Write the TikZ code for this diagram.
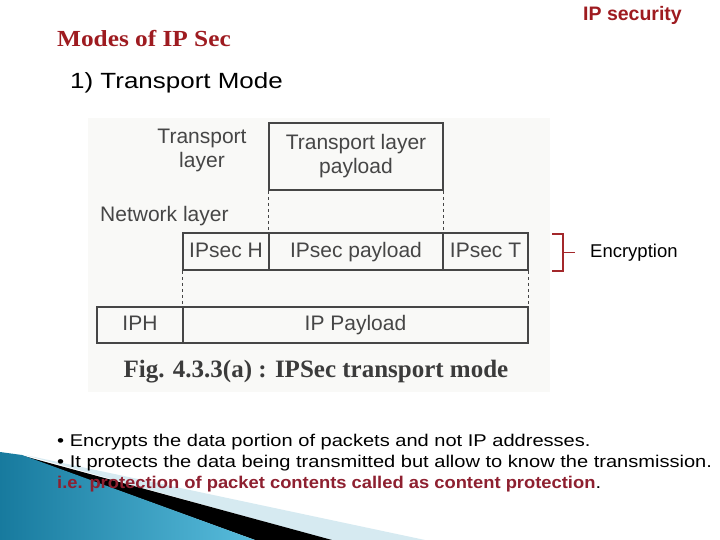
\documentclass[tikz,border=0pt]{standalone}
\usepackage{fontspec}
\setmainfont{Liberation Sans}
\newfontfamily\titleserif[FakeStretch=1.1]{Liberation Serif}
\newfontfamily\figserif{Liberation Serif}
\newfontfamily\slidesans[FakeStretch=1.18]{Liberation Sans}
\newfontfamily\boldnarrow[FakeStretch=1.08]{Liberation Sans}
\usetikzlibrary{positioning}
\definecolor{slidered}{HTML}{9E1B20}
\definecolor{notered}{HTML}{8E2030}
\definecolor{scangray}{HTML}{464646}
\definecolor{scanpaper}{HTML}{F9F9F7}
\definecolor{wedgedark}{HTML}{177A9E}
\definecolor{wedgelight}{HTML}{58BCDC}
\definecolor{wedgepale}{HTML}{D6EAF1}
\definecolor{bracered}{HTML}{A3282B}

\begin{document}
\begin{tikzpicture}[x=1pt, y=-1pt,
    pktbox/.style={draw=scangray, line width=1.6pt, minimum height=37pt, inner sep=0pt,
      font=\fontsize{21}{24}\selectfont, text=scangray},
    cellbox/.style={pktbox, text height=15pt, text depth=4pt},
    layerlbl/.style={font=\fontsize{21}{24}\selectfont, text=scangray, align=center},
    guide/.style={scangray, line width=1.2pt, dash pattern=on 3pt off 3pt},
    bullet/.style={anchor=base west, inner sep=0pt, font=\slidesans\fontsize{17}{17}\selectfont}]
  \useasboundingbox (0,0) rectangle (720,540);
  \fill[white] (0,0) rectangle (720,540);

  % bottom left wedges
  \fill[wedgepale] (25,455) -- (425,540) -- (330,540) -- cycle;
  \fill[black] (20,455) -- (332,540) -- (255,540) -- cycle;
  \shade[left color=wedgedark, right color=wedgelight] (0,452) -- (22,455) -- (255,540) -- (0,540) -- cycle;

  % headings
  \node[anchor=base east, inner sep=0pt, font=\bfseries\fontsize{19.5}{20}\selectfont, text=slidered] (topic) at (682,21) {IP security};
  \node[anchor=base west, inner sep=0pt, font=\titleserif\bfseries\fontsize{23}{24}\selectfont, text=slidered] (title) at (57,47) {Modes of IP Sec};
  \node[anchor=base west, inner sep=0pt, font=\slidesans\fontsize{22}{24}\selectfont] (mode) at (70,89) {1) Transport Mode};

  % scanned figure
  \fill[scanpaper] (88,118) rectangle (550,392);
  \node[pktbox, minimum width=174pt, minimum height=67pt, align=center] (tlp) at (356,156.5) {Transport layer\\payload};
  \node[layerlbl] (tlbl) at (202,150) {Transport\\layer};
  \node[layerlbl, anchor=base west, inner sep=0pt] (nlbl) at (100,222) {Network layer};
  \node[cellbox, minimum width=86pt] (ipsech) at (226,251.5) {IPsec H};
  \node[cellbox, minimum width=174pt] (ipsecp) at (356,251.5) {IPsec payload};
  \node[cellbox, minimum width=85pt] (ipsect) at (485.5,251.5) {IPsec T};
  \node[cellbox, minimum width=86pt, minimum height=36pt] (iph) at (140,325) {IPH};
  \node[cellbox, minimum width=345pt, minimum height=36pt] (ippl) at (355.5,325) {IP Payload};
  \draw[guide] (tlp.south west) -- (ipsecp.north west);
  \draw[guide] (tlp.south east) -- (ipsecp.north east);
  \draw[guide] (ipsech.south west) -- (ippl.north west);
  \draw[guide] (ipsect.south east) -- (ippl.north east);
  \node[font=\figserif\bfseries\fontsize{25}{25}\selectfont, text=scangray!85!black] (cap) at (316,372) {Fig. 4.3.3(a) : IPSec transport mode};

  % encryption bracket
  \draw[bracered, line width=1.2pt] (552,234) -- (563,234) -- (563,271) -- (552,271);
  \draw[bracered, line width=1.2pt] (563,252.5) -- (575,252.5);
  \node[anchor=west, inner sep=0pt, font=\fontsize{18.5}{19}\selectfont] (enc) at (590,252.5) {Encryption};

  % notes
  \node[bullet] (bul1) at (57,446) {• Encrypts the data portion of packets and not IP addresses.};
  \node[bullet] (bul2) at (57,467) {• It protects the data being transmitted but allow to know the transmission.};
  \node[bullet] (note) at (57,488) {{\boldnarrow\bfseries\color{notered}i.e. protection of packet contents called as content protection}.};
\end{tikzpicture}
\end{document}
